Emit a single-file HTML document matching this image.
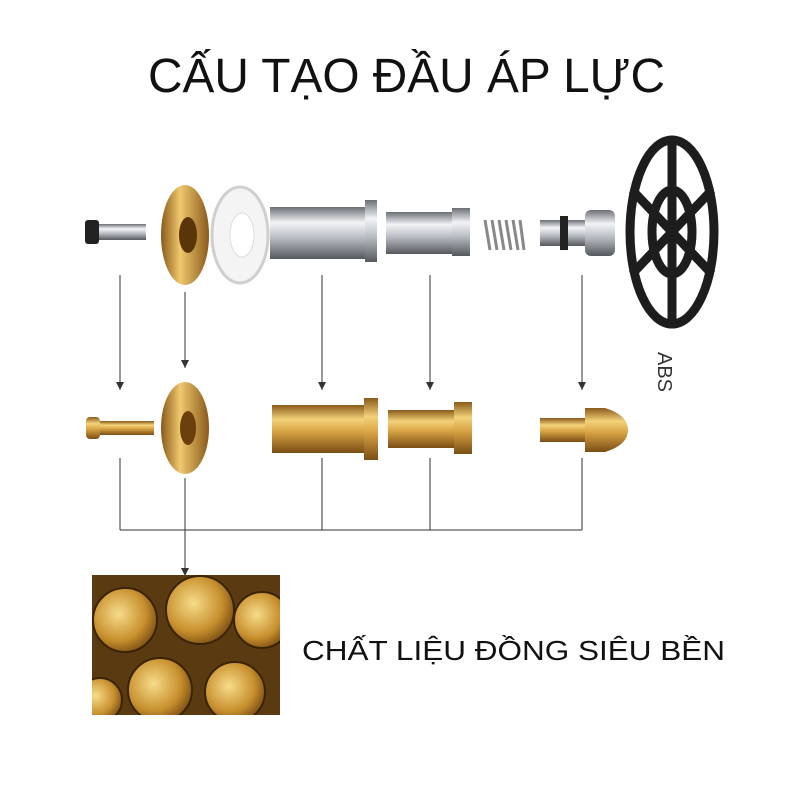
<!DOCTYPE html>
<html><head><meta charset="utf-8"><style>
html,body{margin:0;padding:0;background:#fff;}
svg{display:block}
</style></head><body>
<svg width="790" height="790" viewBox="0 0 790 790" xmlns="http://www.w3.org/2000/svg">
<defs>
<linearGradient id="brass" x1="0" y1="0" x2="0" y2="1">
<stop offset="0" stop-color="#8a5a1a"/><stop offset="0.3" stop-color="#f3d27a"/><stop offset="0.55" stop-color="#d9a444"/><stop offset="1" stop-color="#7a4d14"/></linearGradient>
<linearGradient id="brassH" x1="0" y1="0" x2="1" y2="0">
<stop offset="0" stop-color="#8a5a1a"/><stop offset="0.4" stop-color="#f0c86e"/><stop offset="1" stop-color="#8a5a1a"/></linearGradient>
<linearGradient id="silver" x1="0" y1="0" x2="0" y2="1">
<stop offset="0" stop-color="#6b6f75"/><stop offset="0.3" stop-color="#f2f4f6"/><stop offset="0.6" stop-color="#b8bcc2"/><stop offset="1" stop-color="#55595e"/></linearGradient>
<radialGradient id="rod" cx="0.4" cy="0.4" r="0.7"><stop offset="0" stop-color="#f6dc8a"/><stop offset="0.6" stop-color="#c8902e"/><stop offset="1" stop-color="#6a3f0c"/></radialGradient>
<marker id="ar" markerWidth="8" markerHeight="8" refX="8" refY="4" orient="auto" markerUnits="userSpaceOnUse"><path d="M0,0 L8,4 L0,8 Z" fill="#333"/></marker>
<clipPath id="ph"><rect x="92" y="575" width="188" height="140"/></clipPath>
</defs>
<text x="148" y="92" textLength="517" lengthAdjust="spacingAndGlyphs" font-family="Liberation Sans, sans-serif" font-size="48" fill="#111">CẤU TẠO ĐẦU ÁP LỰC</text>

<!-- top row -->
<rect x="88" y="224" width="58" height="16" fill="url(#silver)"/>
<rect x="85" y="220" width="14" height="24" rx="3" fill="#222"/>
<ellipse cx="185" cy="235" rx="24" ry="50" fill="url(#brassH)"/>
<ellipse cx="188" cy="235" rx="9" ry="18" fill="#5a3508"/>
<ellipse cx="240" cy="235" rx="28" ry="48" fill="#f4f4f4" stroke="#cfcfcf" stroke-width="3"/>
<ellipse cx="242" cy="235" rx="12" ry="22" fill="#fff" stroke="#ddd"/>
<rect x="270" y="207" width="100" height="52" fill="url(#silver)"/>
<rect x="365" y="200" width="12" height="62" fill="url(#silver)"/>
<rect x="386" y="212" width="70" height="42" fill="url(#silver)"/>
<rect x="452" y="208" width="18" height="48" fill="url(#silver)"/>
<g stroke="#888" stroke-width="3" fill="none"><path d="M485 220 L490 250 M492 220 L497 250 M499 220 L504 250 M506 220 L511 250 M513 220 L518 250 M520 220 L524 250"/></g>
<rect x="540" y="220" width="50" height="26" fill="url(#silver)"/>
<rect x="560" y="216" width="8" height="34" fill="#222"/>
<rect x="585" y="210" width="30" height="46" rx="6" fill="url(#silver)"/>
<g fill="none" stroke="#1d1d1d" stroke-width="9">
<ellipse cx="672" cy="232" rx="42" ry="92"/>
<ellipse cx="672" cy="232" rx="20" ry="42"/>
<path d="M672 140 L672 324 M632 190 L712 274 M632 274 L712 190"/>
</g>
<text transform="translate(658,352) rotate(90)" font-family="Liberation Sans, sans-serif" font-size="20" fill="#333">ABS</text>

<!-- arrows -->
<g stroke="#333" stroke-width="1" fill="none">
<line x1="120" y1="275" x2="120" y2="390" marker-end="url(#ar)"/>
<line x1="185" y1="292" x2="185" y2="368" marker-end="url(#ar)"/>
<line x1="322" y1="275" x2="322" y2="390" marker-end="url(#ar)"/>
<line x1="430" y1="275" x2="430" y2="390" marker-end="url(#ar)"/>
<line x1="582" y1="275" x2="582" y2="390" marker-end="url(#ar)"/>
<path d="M120 458 V530 M185 478 V530 M322 458 V530 M430 458 V530 M582 458 V530 M120 530 H582"/>
<line x1="185" y1="530" x2="185" y2="576" marker-end="url(#ar)"/>
</g>

<!-- bottom row -->
<rect x="90" y="421" width="64" height="14" fill="url(#brass)"/>
<rect x="86" y="417" width="14" height="22" rx="4" fill="url(#brass)"/>
<ellipse cx="185" cy="428" rx="24" ry="46" fill="url(#brassH)"/>
<ellipse cx="188" cy="428" rx="8" ry="17" fill="#6a3f0c"/>
<rect x="272" y="405" width="98" height="48" fill="url(#brass)"/>
<rect x="364" y="398" width="14" height="62" fill="url(#brass)"/>
<rect x="388" y="410" width="68" height="38" fill="url(#brass)"/>
<rect x="454" y="402" width="18" height="52" fill="url(#brass)"/>
<rect x="540" y="418" width="48" height="24" fill="url(#brass)"/>
<path d="M585 408 H605 Q628 415 628 430 Q628 445 605 452 H585 Z" fill="url(#brass)"/>

<!-- brass photo -->
<rect x="92" y="575" width="188" height="140" fill="#5a3a10"/>
<g stroke="#3a2306" stroke-width="2" clip-path="url(#ph)">
<circle cx="125" cy="620" r="32" fill="url(#rod)"/>
<circle cx="200" cy="610" r="34" fill="url(#rod)"/>
<circle cx="262" cy="620" r="28" fill="url(#rod)"/>
<circle cx="160" cy="690" r="32" fill="url(#rod)"/>
<circle cx="235" cy="692" r="30" fill="url(#rod)"/>
<circle cx="100" cy="700" r="22" fill="url(#rod)"/>
</g>
<text x="302" y="660" textLength="423" lengthAdjust="spacingAndGlyphs" font-family="Liberation Sans, sans-serif" font-size="28" fill="#111">CHẤT LIỆU ĐỒNG SIÊU BỀN</text>
</svg>
</body></html>
